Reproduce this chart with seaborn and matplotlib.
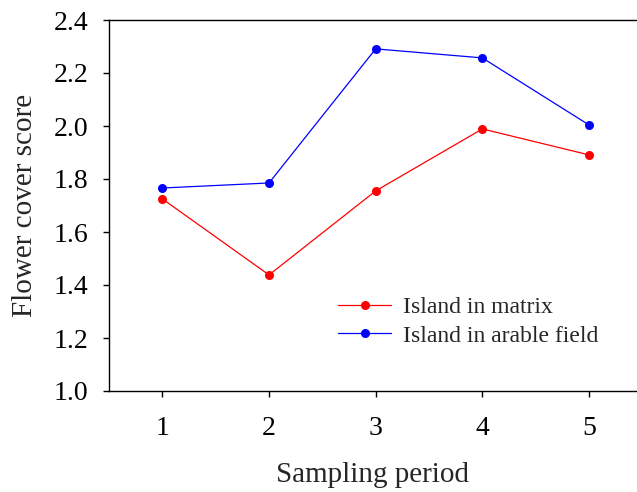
import matplotlib
matplotlib.use("Agg")
import matplotlib.pyplot as plt
import seaborn as sns
import pandas as pd

periods = [1, 2, 3, 4, 5]
matrix = [1.725, 1.438, 1.755, 1.989, 1.891]
arable = [1.766, 1.785, 2.291, 2.257, 2.004]
series_names = ["Island in matrix", "Island in arable field"]
y_ticks = [1.0, 1.2, 1.4, 1.6, 1.8, 2.0, 2.2, 2.4]

df = pd.DataFrame({
    "period": periods * 2,
    "score": matrix + arable,
    "series": [series_names[0]] * 5 + [series_names[1]] * 5,
})

sns.set_theme(style="ticks")
plt.rcParams["font.family"] = ["Liberation Serif", "DejaVu Serif"]

fig = plt.figure(figsize=(6.37, 4.92), dpi=100)
ax = fig.add_axes([109 / 637, 1 - 391 / 492, (637 - 109) / 637, (391 - 20) / 492])

sns.lineplot(data=df, x="period", y="score", hue="series",
             palette={series_names[0]: "#ff0000", series_names[1]: "#0000ff"},
             marker="o", markersize=6.5, markeredgewidth=0, linewidth=0.9,
             ax=ax)

ax.set_xlim(0.5, 5.45)
ax.set_ylim(1.0, 2.4)
ax.set_xticks(periods)
ax.set_yticks(y_ticks)
ax.set_yticklabels([f"{v:.1f}" for v in y_ticks])
ax.tick_params(direction="out", length=4, width=1, labelsize=20, colors="black")
ax.tick_params(axis="y", pad=11)
ax.tick_params(axis="x", pad=14)
ax.set_xlabel("Sampling period", fontsize=21, labelpad=15)
ax.set_ylabel("Flower cover score", fontsize=21, labelpad=11)
for s in ["left", "bottom", "top"]:
    ax.spines[s].set_color("black")
    ax.spines[s].set_linewidth(1)
ax.spines["right"].set_visible(False)

leg = ax.legend(frameon=False, fontsize=17, loc="upper left",
                bbox_to_anchor=(0.434, 0.255), borderpad=0, borderaxespad=0,
                handlelength=2.25, handletextpad=0.5, labelspacing=0.3)

fig.savefig("out.png", dpi=100)
